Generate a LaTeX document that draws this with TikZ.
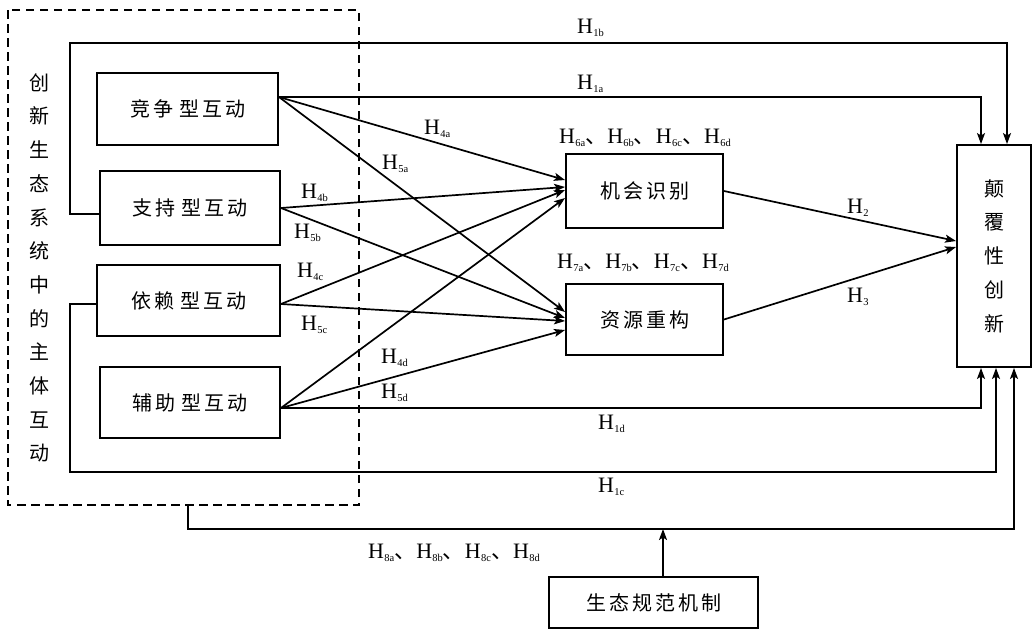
\documentclass[tikz,border=0pt]{standalone}
\usepackage{fontspec}
\setmainfont{Liberation Serif}
\newfontfamily\cjk[LetterSpace=15]{Noto Sans CJK SC}
\newfontfamily\cjkp{Noto Sans CJK SC}
\usetikzlibrary{arrows.meta,calc}
\newcommand{\Hx}[1]{H\kern0.3pt\raisebox{-3pt}{\fontsize{10.5}{10.5}\selectfont #1}}
\newcommand{\dn}{{\cjkp 、}}
\begin{document}
\begin{tikzpicture}[x=1pt,y=-1pt,
  box/.style={draw, line width=1.9pt, inner sep=0pt, font=\cjk\fontsize{20}{24}\selectfont},
  ln/.style={line width=1.7pt},
  arr/.style={ln, -{Stealth[length=11pt,width=8pt,inset=2.5pt]}},
  lab/.style={anchor=base west, inner sep=0pt, font=\fontsize{22}{22}\selectfont},
  dashbox/.style={line width=1.8pt, dash pattern=on 8.5pt off 5.5pt}]
\useasboundingbox (0,0) rectangle (1035,630);
% container
\draw[dashbox] (8,10) rectangle (359,505);
\coordinate (db) at (188,505);
\node[inner sep=0pt, align=center, font=\cjkp\fontsize{20}{33.7}\selectfont] (lt) at (39,268)
  {创\\新\\生\\态\\系\\统\\中\\的\\主\\体\\互\\动};
% boxes
\node[box, minimum width=181pt, minimum height=72pt] (jz) at (187.5,109) {竞争\hspace{6pt}型互动};
\node[box, minimum width=180pt, minimum height=74pt] (zc) at (190,208) {支持\hspace{6pt}型互动};
\node[box, minimum width=183pt, minimum height=71pt] (yl) at (188.5,300.5) {依赖\hspace{6pt}型互动};
\node[box, minimum width=180pt, minimum height=71pt] (fz) at (190,402.5) {辅助\hspace{6pt}型互动};
\node[box, minimum width=157pt, minimum height=74pt] (jh) at (644.5,191) {机会识别};
\node[box, minimum width=157pt, minimum height=71pt] (zy) at (644.5,319.5) {资源重构};
\node[box, minimum width=74pt, minimum height=222pt, align=center,
  font=\cjkp\fontsize{20}{33.75}\selectfont] (dx) at (994,256) {颠\\覆\\性\\创\\新};
\node[box, minimum width=209pt, minimum height=51pt] (st) at (653.5,602.5) {生态规范机制};
% ports
\coordinate (jzo) at ($(jz.east)+(0,-12)$);
\coordinate (zco) at (zc.east);
\coordinate (zcl) at ($(zc.west)+(0,6)$);
\coordinate (ylo) at ($(yl.east)+(0,3.5)$);
\coordinate (yll) at ($(yl.west)+(0,3.5)$);
\coordinate (fzo) at ($(fz.east)+(0,5.5)$);
\coordinate (jh1) at ($(jh.west)+(0,-11)$);
\coordinate (jh2) at ($(jh.west)+(0,-4)$);
\coordinate (jh3) at ($(jh.west)+(0,-1)$);
\coordinate (jh4) at ($(jh.west)+(0,7)$);
\coordinate (zy1) at ($(zy.west)+(0,-7.5)$);
\coordinate (zy2) at ($(zy.west)+(0,-1.5)$);
\coordinate (zy3) at ($(zy.west)+(0,1.5)$);
\coordinate (zy4) at ($(zy.west)+(0,10.5)$);
\coordinate (dx1) at ($(dx.west)+(0,-15)$);
\coordinate (dx2) at ($(dx.west)+(0,-9)$);
\coordinate (dxt1) at ($(dx.north)+(-13,0)$);
\coordinate (dxt2) at ($(dx.north)+(13,0)$);
\coordinate (dxb1) at ($(dx.south)+(-13,0)$);
\coordinate (dxb2) at ($(dx.south)+(2,0)$);
\coordinate (dxb3) at ($(dx.south)+(20,0)$);
\coordinate (stt) at ($(st.north)+(9.5,0)$);
\coordinate (c1b) at (70,43);
\coordinate (c1c) at (70,472);
\coordinate (c8) at (1014,529);
% connectors
\draw[arr] (jzo) -- (jh1);
\draw[arr] (jzo) -- (zy1);
\draw[arr] (zco) -- (jh2);
\draw[arr] (zco) -- (zy2);
\draw[arr] (ylo) -- (jh3);
\draw[arr] (ylo) -- (zy3);
\draw[arr] (fzo) -- (jh4);
\draw[arr] (fzo) -- (zy4);
\draw[arr] (jh.east) -- (dx1);
\draw[arr] (zy.east) -- (dx2);
\draw[arr] (jzo) -| (dxt1);
\draw[arr] (zcl) -| (c1b) -| (dxt2);
\draw[arr] (fzo) -| (dxb1);
\draw[arr] (yll) -| (c1c) -| (dxb2);
\draw[arr] (db) |- (c8) -- (dxb3);
\draw[arr] (stt) -- (stt |- c8);
% labels
\node[lab] (l1b) at (577,33) {\Hx{1b}};
\node[lab] (l1a) at (577,89) {\Hx{1a}};
\node[lab] (l4a) at (424,134) {\Hx{4a}};
\node[lab] (l5a) at (382,169) {\Hx{5a}};
\node[lab] (l4b) at (301,198) {\Hx{4b}};
\node[lab] (l5b) at (294,238) {\Hx{5b}};
\node[lab] (l4c) at (297,277) {\Hx{4c}};
\node[lab] (l5c) at (301,330) {\Hx{5c}};
\node[lab] (l4d) at (381,363) {\Hx{4d}};
\node[lab] (l5d) at (381,398) {\Hx{5d}};
\node[lab] (l6) at (559,143) {\Hx{6a}\dn\Hx{6b}\dn\Hx{6c}\dn\Hx{6d}};
\node[lab] (l7) at (557,268) {\Hx{7a}\dn\Hx{7b}\dn\Hx{7c}\dn\Hx{7d}};
\node[lab] (l2) at (847,213) {\Hx{2}};
\node[lab] (l3) at (847,302) {\Hx{3}};
\node[lab] (l1d) at (598,429) {\Hx{1d}};
\node[lab] (l1c) at (598,492) {\Hx{1c}};
\node[lab] (l8) at (368,558) {\Hx{8a}\dn\Hx{8b}\dn\Hx{8c}\dn\Hx{8d}};
\end{tikzpicture}
\end{document}
